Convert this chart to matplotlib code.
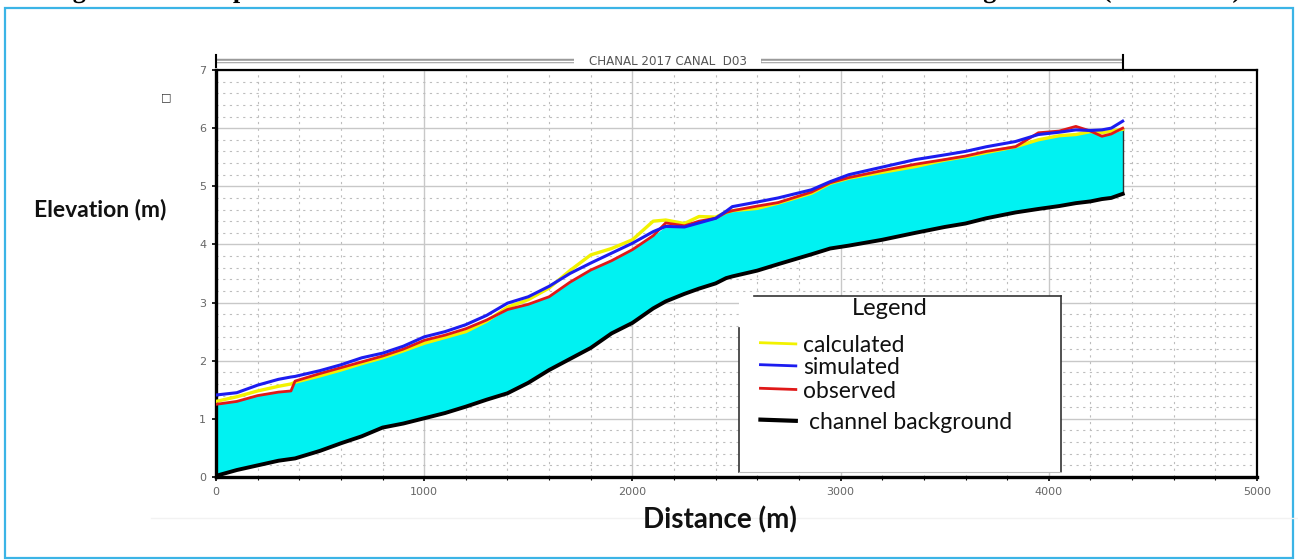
import numpy as np
import matplotlib
matplotlib.use("Agg")
import matplotlib.pyplot as plt
from matplotlib.lines import Line2D
from matplotlib.patches import Rectangle, PathPatch
from matplotlib.textpath import TextPath
from matplotlib.font_manager import FontProperties
from matplotlib.transforms import Affine2D, IdentityTransform

# stations along canal D03 (m)
distance = [0, 100, 200, 300, 360, 380, 500, 600, 700, 800, 900, 1000, 1100, 1200,
            1300, 1400, 1500, 1600, 1700, 1800, 1900, 2000, 2100, 2160, 2250, 2320,
            2400, 2450, 2480, 2600, 2700, 2860, 2950, 3040, 3200, 3360, 3500, 3600,
            3700, 3840, 3950, 4050, 4130, 4200, 4255, 4300, 4355]

# channel bed elevation (m)
bed = [0.02, 0.12, 0.20, 0.28, 0.31, 0.32, 0.45, 0.58, 0.70, 0.85, 0.92, 1.01, 1.10, 1.21,
       1.33, 1.44, 1.62, 1.84, 2.03, 2.22, 2.47, 2.65, 2.90, 3.02, 3.15, 3.24,
       3.33, 3.42, 3.45, 3.55, 3.66, 3.83, 3.93, 3.98, 4.08, 4.20, 4.30, 4.36,
       4.45, 4.55, 4.61, 4.66, 4.71, 4.74, 4.78, 4.80, 4.87]

# water surface elevations (m)
calculated = [1.30, 1.38, 1.48, 1.56, 1.60, 1.63, 1.74, 1.84, 1.95, 2.05, 2.17, 2.30, 2.40, 2.50,
              2.68, 2.92, 3.05, 3.25, 3.55, 3.82, 3.93, 4.08, 4.40, 4.42, 4.36, 4.48,
              4.47, 4.55, 4.58, 4.62, 4.71, 4.88, 5.05, 5.14, 5.24, 5.34, 5.45, 5.51,
              5.58, 5.68, 5.80, 5.87, 5.89, 5.94, 5.92, 5.95, 5.98]
simulated = [1.41, 1.45, 1.58, 1.68, 1.72, 1.73, 1.83, 1.93, 2.05, 2.13, 2.25, 2.41, 2.50, 2.62,
             2.78, 2.99, 3.10, 3.28, 3.50, 3.68, 3.85, 4.02, 4.22, 4.31, 4.30, 4.37,
             4.45, 4.57, 4.65, 4.73, 4.80, 4.94, 5.08, 5.20, 5.33, 5.46, 5.54, 5.60,
             5.68, 5.77, 5.89, 5.93, 5.97, 5.96, 5.97, 6.00, 6.12]
observed = [1.25, 1.30, 1.40, 1.46, 1.48, 1.65, 1.78, 1.88, 1.98, 2.08, 2.20, 2.35, 2.44, 2.55,
            2.70, 2.88, 2.97, 3.10, 3.35, 3.56, 3.72, 3.91, 4.15, 4.37, 4.32, 4.40,
            4.45, 4.55, 4.58, 4.66, 4.72, 4.90, 5.06, 5.15, 5.27, 5.38, 5.46, 5.52,
            5.60, 5.68, 5.92, 5.95, 6.03, 5.95, 5.86, 5.90, 6.00]

legend_labels = ["calculated", "simulated", "observed", "channel background"]
section_name = "CHANAL 2017 CANAL  D03"
caption = ("Figure 8: Water profiles of the canal D03 simulated with the HEC-RAS model "
           "during the 2017 (rice season)")

c_yellow = "#f2f200"
c_blue = "#1c1cf0"
c_red = "#e01818"
c_cyan = "#00f2f2"

fig = plt.figure(figsize=(12.98, 5.6), dpi=100)
ax = fig.add_axes([0.1664, 0.1482, 0.8020, 0.7268])

x = np.array(distance)
water_low = np.minimum.reduce([np.array(calculated), np.array(simulated), np.array(observed)])
ax.fill_between(x, bed, water_low, color=c_cyan, lw=0, zorder=2)
ax.plot([x[-1], x[-1]], [bed[-1], water_low[-1]], color="#303030", lw=1, zorder=3)

ax.plot(x, calculated, color=c_yellow, lw=2.4, zorder=4)
ax.plot(x, observed, color=c_red, lw=2.0, zorder=5)
ax.plot(x, simulated, color=c_blue, lw=2.2, zorder=6)
ax.plot(x, bed, color="black", lw=2.8, zorder=6)

ax.set_xlim(0, 5000)
ax.set_ylim(0, 7)
ax.set_xticks(range(0, 5001, 1000))
ax.set_xticks(range(0, 5001, 200), minor=True)
ax.set_yticks(range(0, 8))
ax.set_yticks(np.arange(0, 7.01, 0.2), minor=True)
ax.grid(which="major", color="#c8c8c8", lw=1.0, zorder=0)
ax.grid(which="minor", color="#bdbdbd", lw=0.8, ls=(0, (2, 4)), zorder=0)
ax.tick_params(which="major", labelsize=8, labelcolor="#666666", length=3, width=1.2, pad=4)
ax.tick_params(which="minor", length=2, width=0.8)
ax.tick_params(axis="y", which="minor", length=0)
for side in ["left", "bottom"]:
    ax.spines[side].set_linewidth(2.4)
for side in ["top", "right"]:
    ax.spines[side].set_linewidth(1.6)

# section banner above the plot
ax.plot([0, 1720], [7.15, 7.15], color="#9a9a9a", lw=3.2, clip_on=False, solid_capstyle="butt")
ax.plot([0, 1720], [7.15, 7.15], color="white", lw=1.0, clip_on=False, solid_capstyle="butt")
ax.plot([2620, 4355], [7.15, 7.15], color="#9a9a9a", lw=3.2, clip_on=False, solid_capstyle="butt")
ax.plot([2620, 4355], [7.15, 7.15], color="white", lw=1.0, clip_on=False, solid_capstyle="butt")
ax.plot([0, 0], [7.05, 7.25], color="black", lw=1.5, clip_on=False)
ax.plot([4355, 4355], [7.0, 7.25], color="black", lw=1.5, clip_on=False)
ax.text(2170, 7.15, section_name, ha="center", va="center", fontsize=8.6,
        color="#555555", family="DejaVu Sans")

# legend panel
lx0, lx1, ly0, ly1 = 0.5025, 0.8115, 0.012, 0.445
ax.add_patch(Rectangle((lx0, ly0), lx1 - lx0, ly1 - ly0, transform=ax.transAxes,
                       facecolor="white", edgecolor="none", zorder=8))
ax.plot([0.517, lx1], [ly1, ly1], transform=ax.transAxes, color="#333333", lw=1.2, zorder=9)
ax.plot([lx1, lx1], [ly0, ly1], transform=ax.transAxes, color="#333333", lw=1.2, zorder=9)
ax.plot([lx0, lx0], [ly0, 0.365], transform=ax.transAxes, color="#333333", lw=1.2, zorder=9)
ax.plot([lx0, lx1], [ly0, ly0], transform=ax.transAxes, color="#bbbbbb", lw=0.8, zorder=9)
ax.text(0.647, 0.413, "Legend", transform=ax.transAxes, ha="center", va="center",
        fontsize=17, family="Lato", color="#111111", zorder=10)
legend_colors = [c_yellow, c_blue, c_red, "black"]
legend_y = [0.322, 0.268, 0.21, 0.133]
legend_x = [0.564, 0.564, 0.564, 0.570]
for lab, col, yy, xx in zip(legend_labels, legend_colors, legend_y, legend_x):
    lw = 3.0 if col == "black" else 2.0
    ax.add_line(Line2D([0.523, 0.557], [yy + 0.008, yy + 0.005], transform=ax.transAxes,
                       color=col, lw=lw, zorder=10))
    ax.text(xx, yy, lab, transform=ax.transAxes, ha="left", va="center",
            fontsize=16.5, family="Lato", color="#111111", zorder=10)

# axis titles
fig.text(0.0775, 0.625, "Elevation (m)", ha="center", va="center", fontsize=16.5,
         fontweight="bold", family="Lato", color="#111111")
fig.text(0.5547, 0.072, "Distance (m)", ha="center", va="center", fontsize=20,
         fontweight="bold", family="Lato", color="#111111")
fig.text(0.128, 0.827, "\u25a1", ha="center", va="center", fontsize=8, color="#333333")

# caption line sitting just above the page edge: only its descenders show
W, H = fig.bbox.width, fig.bbox.height
fp = FontProperties(family="Liberation Serif", weight="bold")
tp = TextPath((0, 0), caption, size=26, prop=fp)
ext = tp.get_extents()
sx = (1240 - 50) / ext.width
cap_tr = Affine2D().translate(-ext.x0, 0).scale(sx, 1.0).translate(50, H + 2.5)
fig.add_artist(PathPatch(tp, transform=cap_tr + IdentityTransform(),
                         facecolor="black", edgecolor="none"))

# page frame
fig.add_artist(Rectangle((0.004, 0.004), 0.992, 0.981, transform=fig.transFigure,
                         fill=False, edgecolor="#3bb4e6", lw=1.6))
fig.add_artist(Line2D([0.116, 1.0], [0.075, 0.075], transform=fig.transFigure,
                      color="#f2f2f2", lw=1.0))

fig.savefig("out.png", dpi=100)
